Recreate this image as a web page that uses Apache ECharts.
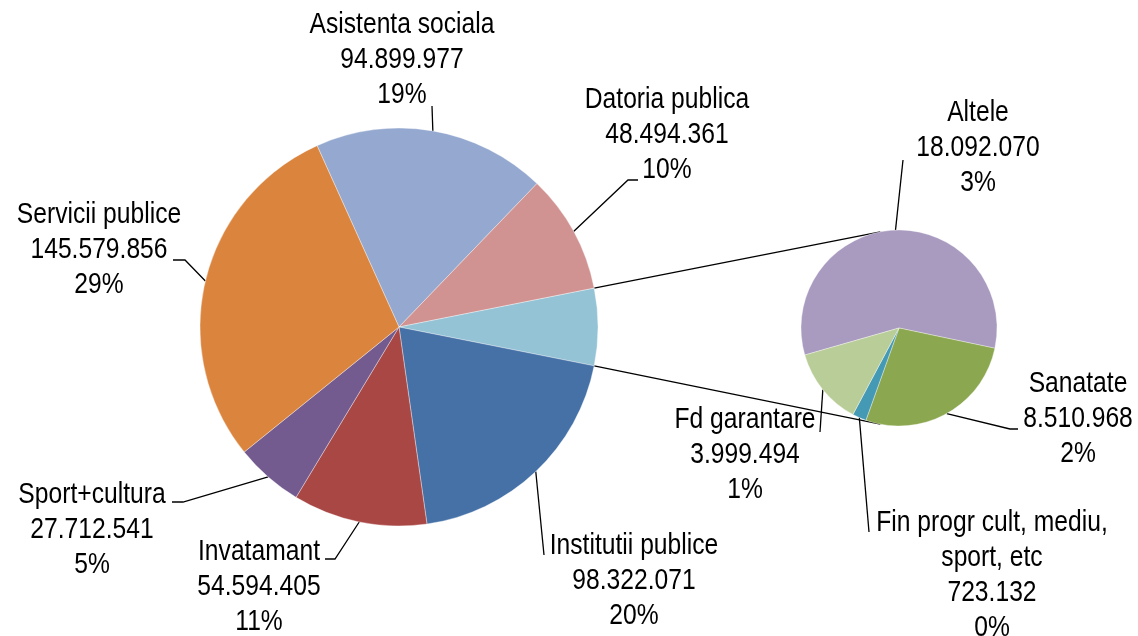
<!DOCTYPE html>
<html><head><meta charset="utf-8">
<script src="https://cdn.jsdelivr.net/npm/echarts@6/dist/echarts.min.js"></script>
<style>html,body{margin:0;padding:0;background:#fff}#c{width:1138px;height:636px}</style>
</head><body><div id="c"></div>
<script>
// ---- data ----
const mainCategories = ['Asistenta sociala','Datoria publica','Institutii publice','Invatamant','Sport+cultura','Servicii publice'];
const mainValues = [94899977, 48494361, 98322071, 54594405, 27712541, 145579856];
const mainPercents = ['19%','10%','20%','11%','5%','29%'];
const subCategories = ['Altele','Sanatate','Fin progr cult, mediu,\nsport, etc','Fd garantare'];
const subValues = [18092070, 8510968, 723132, 3999494];
const subPercents = ['3%','2%','0%','1%'];
const otherInsertIndex = 2; // position of the aggregated slice in main pie

// ---- styles / layout ----
const mainColors = ['#95A9D0','#D19392','#4571A7','#A94745','#735A8F','#DA843E'];
const otherColor = '#93C3D5';
const subColors = ['#A99ABF','#8BA74F','#4499B5','#B9CD98'];
const MAIN_C = [399, 327], MAIN_R = 199;
const SUB_C = [899, 328], SUB_R = 98;
const SUB_START = 196;
const CONNECT_ANGLE = 101;
const FONT_FAMILY = '"Liberation Sans",Arial,sans-serif';
const FONT_SIZE = 29, LINE_H = 35, NARROW = 0.85;
// label centers and leader points (after anchor), keyed by category
const labelPos = {
  'Asistenta sociala': {c:[402,60], pts:[[432,106]]},
  'Datoria publica': {c:[667,135], pts:[[628,180],[638,180]]},
  'Institutii publice': {c:[634,581], pts:[[544,555]]},
  'Invatamant': {c:[259,587], pts:[[335,559],[325,559]]},
  'Sport+cultura': {c:[92,530], pts:[[183,502],[172,502]]},
  'Servicii publice': {c:[99,250], pts:[[185,260],[173,260]]},
  'Altele': {c:[978,148], pts:[[903,160]]},
  'Sanatate': {c:[1078,419], pts:[[1010,429],[1018,429]]},
  'Fin progr cult, mediu,\nsport, etc': {c:[992,575], pts:[[869,532]]},
  'Fd garantare': {c:[745,455], pts:[[820,432]]}
};

function fmt(v){ return String(v).replace(/\B(?=(\d{3})+(?!\d))/g, '.'); }

const otherValue = subValues.reduce((a,b)=>a+b,0);
const mainData = mainCategories.map((n,i)=>({name:n, value:mainValues[i], pct:mainPercents[i], itemStyle:{color:mainColors[i]}}));
mainData.splice(otherInsertIndex, 0, {name:'Alte', value:otherValue, pct:'', itemStyle:{color:otherColor}, isOther:true});
const subData = subCategories.map((n,i)=>({name:n, value:subValues[i], pct:subPercents[i], itemStyle:{color:subColors[i]}}));

const mainTotal = mainData.reduce((a,d)=>a+d.value,0);
const subTotal = otherValue;
let before = 0; for (let i=0;i<otherInsertIndex;i++) before += mainData[i].value;
const otherHalf = otherValue/mainTotal*180;
const MAIN_START = otherHalf + before/mainTotal*360;

function pt(c, r, deg){ const a = deg*Math.PI/180; return [c[0]+r*Math.cos(a), c[1]-r*Math.sin(a)]; }
function midAngles(data, total, start){
  const out=[]; let cum=0;
  data.forEach(d=>{ out.push(start - (cum + d.value/2)/total*360); cum += d.value; });
  return out;
}
const mainMid = midAngles(mainData, mainTotal, MAIN_START);
const subMid = midAngles(subData, subTotal, SUB_START);

const graphics = [];
const lineStyle = {stroke:'#000', lineWidth:1.3, fill:null};
// connector lines
graphics.push({type:'polyline', shape:{points:[pt(MAIN_C,MAIN_R,otherHalf), pt(SUB_C,SUB_R,CONNECT_ANGLE)]}, style:lineStyle, silent:true});
graphics.push({type:'polyline', shape:{points:[pt(MAIN_C,MAIN_R,-otherHalf), pt(SUB_C,SUB_R,-CONNECT_ANGLE)]}, style:lineStyle, silent:true});
// leader lines + labels
function addLabel(d, anchor){
  const lp = labelPos[d.name];
  graphics.push({type:'polyline', shape:{points:[anchor].concat(lp.pts)}, style:lineStyle, silent:true});
  graphics.push({type:'text', x:lp.c[0], y:lp.c[1], scaleX:NARROW, silent:true,
    style:{text: d.name + '\n' + fmt(d.value) + '\n' + d.pct, fill:'#000',
      font: FONT_SIZE + 'px ' + FONT_FAMILY, lineHeight: LINE_H,
      textAlign:'center', textVerticalAlign:'middle'}});
}
mainData.forEach((d,i)=>{ if(!d.isOther) addLabel(d, pt(MAIN_C,MAIN_R,mainMid[i])); });
subData.forEach((d,i)=>{ addLabel(d, pt(SUB_C,SUB_R,subMid[i])); });

const chart = echarts.init(document.getElementById('c'), null, {renderer:'canvas'});
chart.setOption({
  backgroundColor:'#fff',
  animation:false,
  series:[
    {type:'pie', center:MAIN_C, radius:MAIN_R, startAngle:MAIN_START, clockwise:true,
     itemStyle:{borderColor:'rgba(255,255,255,0.6)', borderWidth:0.6},
     label:{show:false}, labelLine:{show:false}, emphasis:{disabled:true},
     data:mainData},
    {type:'pie', center:SUB_C, radius:SUB_R, startAngle:SUB_START, clockwise:true,
     itemStyle:{borderColor:'rgba(255,255,255,0.6)', borderWidth:0.6},
     label:{show:false}, labelLine:{show:false}, emphasis:{disabled:true},
     data:subData}
  ],
  graphic: graphics
});
</script></body></html>
